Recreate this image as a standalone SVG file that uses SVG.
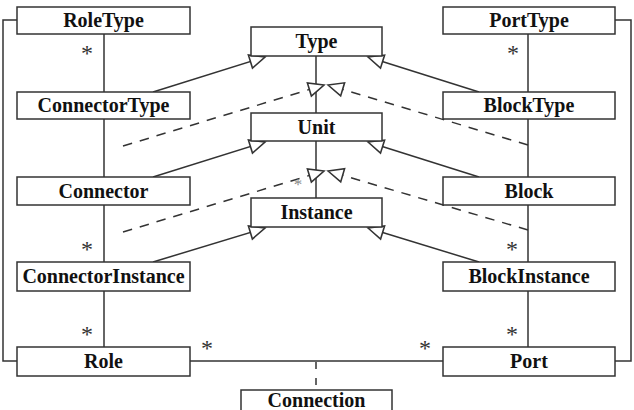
<svg xmlns="http://www.w3.org/2000/svg" width="634" height="410" viewBox="0 0 634 410">
<style>
.box{fill:#fff;stroke:#333;stroke-width:1.5}
.lbl{font-family:"Liberation Serif","Times New Roman",serif;font-weight:bold;font-size:20px;fill:#111;text-anchor:middle}
.ln{fill:none;stroke:#333;stroke-width:1.5}
.dash{fill:none;stroke:#333;stroke-width:1.5;stroke-dasharray:9.5 8}
.star{font-family:"Liberation Serif","Times New Roman",serif;font-size:24px;fill:#333;text-anchor:middle}
</style>
<defs>
<marker id="gen" markerUnits="userSpaceOnUse" orient="auto" refX="0" refY="0" markerWidth="20" markerHeight="20" viewBox="-17 -9 19 18" overflow="visible">
<path d="M0,0 L-14.5,-6.5 L-14.5,6.5 Z" fill="#fff" stroke="#333" stroke-width="1.5" stroke-dasharray="none"/>
</marker>
</defs>
<g id="connectors">
<line class="ln" x1="104" y1="34" x2="104" y2="92"/>
<line class="ln" x1="104" y1="119" x2="104" y2="177"/>
<line class="ln" x1="104" y1="205" x2="104" y2="262"/>
<line class="ln" x1="104" y1="291" x2="104" y2="347"/>
<line class="ln" x1="528" y1="34" x2="528" y2="92"/>
<line class="ln" x1="528" y1="119" x2="528" y2="177"/>
<line class="ln" x1="528" y1="205" x2="528" y2="262"/>
<line class="ln" x1="528" y1="291" x2="528" y2="347"/>
<line class="ln" x1="316" y1="56" x2="316" y2="113"/>
<line class="ln" x1="316" y1="141" x2="316" y2="198"/>
<polyline class="ln" points="17,20 3,20 3,361 17,361"/>
<polyline class="ln" points="615,20 631,20 631,361 615,361"/>
<line class="ln" x1="190" y1="361" x2="443" y2="361"/>
<line class="ln" x1="316" y1="362" x2="316" y2="390" style="stroke-dasharray:7 9"/>
<line class="ln" x1="153" y1="92" x2="265" y2="57" marker-end="url(#gen)"/>
<line class="ln" x1="479" y1="92" x2="368" y2="57" marker-end="url(#gen)"/>
<line class="ln" x1="153" y1="177" x2="265" y2="142" marker-end="url(#gen)"/>
<line class="ln" x1="479" y1="177" x2="368" y2="142" marker-end="url(#gen)"/>
<line class="ln" x1="153" y1="262" x2="265" y2="228" marker-end="url(#gen)"/>
<line class="ln" x1="479" y1="262" x2="368" y2="228" marker-end="url(#gen)"/>
<line class="dash" x1="123" y1="146" x2="324" y2="85" marker-end="url(#gen)"/>
<line class="dash" x1="528" y1="145" x2="328" y2="85" marker-end="url(#gen)"/>
<line class="dash" x1="123" y1="232" x2="324" y2="171" marker-end="url(#gen)"/>
<line class="dash" x1="528" y1="230" x2="328" y2="171" marker-end="url(#gen)"/>
<text class="star" x="87" y="60.5">*</text>
<text class="star" x="513" y="60.5">*</text>
<text class="star" x="87" y="256.5">*</text>
<text class="star" x="512" y="256.5">*</text>
<text class="star" x="87" y="341.5">*</text>
<text class="star" x="512" y="341.5">*</text>
<text class="star" x="207" y="355.5">*</text>
<text class="star" x="425" y="355.5">*</text>
<text class="star" x="298" y="190" style="font-size:17px;fill:#888">*</text>
</g>
<g id="RoleType"><rect class="box" x="17" y="7" width="173" height="27"/><text class="lbl" x="103.5" y="27">RoleType</text></g>
<g id="ConnectorType"><rect class="box" x="17" y="92" width="173" height="27"/><text class="lbl" x="103.5" y="112">ConnectorType</text></g>
<g id="Connector"><rect class="box" x="17" y="177" width="173" height="28"/><text class="lbl" x="103.5" y="197.5">Connector</text></g>
<g id="ConnectorInstance"><rect class="box" x="17" y="262" width="173" height="29"/><text class="lbl" x="103.5" y="283">ConnectorInstance</text></g>
<g id="Role"><rect class="box" x="17" y="347" width="173" height="29"/><text class="lbl" x="103.5" y="368">Role</text></g>
<g id="PortType"><rect class="box" x="443" y="7" width="172" height="27"/><text class="lbl" x="529" y="27">PortType</text></g>
<g id="BlockType"><rect class="box" x="443" y="92" width="172" height="27"/><text class="lbl" x="529" y="112">BlockType</text></g>
<g id="Block"><rect class="box" x="443" y="177" width="172" height="28"/><text class="lbl" x="529" y="197.5">Block</text></g>
<g id="BlockInstance"><rect class="box" x="443" y="262" width="172" height="29"/><text class="lbl" x="529" y="283">BlockInstance</text></g>
<g id="Port"><rect class="box" x="443" y="347" width="172" height="29"/><text class="lbl" x="529" y="368">Port</text></g>
<g id="Type"><rect class="box" x="251" y="27" width="131" height="29"/><text class="lbl" x="316.5" y="48">Type</text></g>
<g id="Unit"><rect class="box" x="251" y="113" width="131" height="28"/><text class="lbl" x="316.5" y="133.5">Unit</text></g>
<g id="Instance"><rect class="box" x="251" y="198" width="131" height="29"/><text class="lbl" x="316.5" y="219">Instance</text></g>
<g id="Connection"><rect class="box" x="241" y="390" width="151" height="29"/><text class="lbl" x="316.5" y="407">Connection</text></g>
</svg>
